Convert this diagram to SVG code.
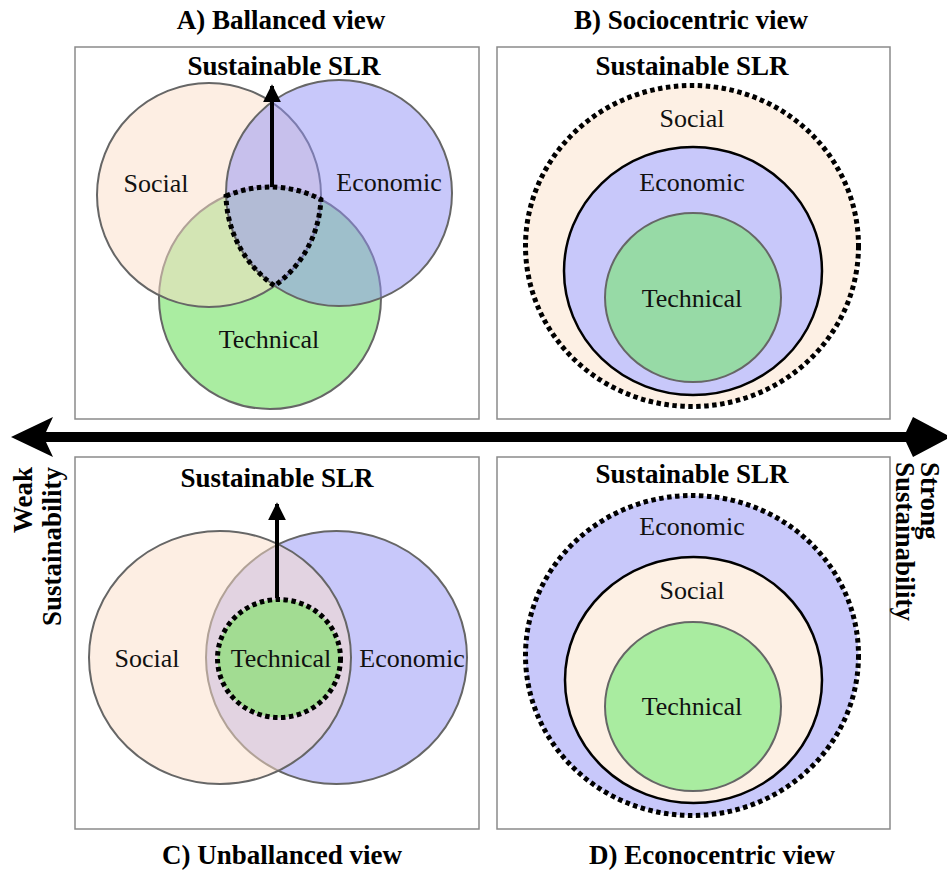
<svg xmlns="http://www.w3.org/2000/svg" width="947" height="872" viewBox="0 0 947 872" font-family="'Liberation Serif', 'Times New Roman', 'DejaVu Serif', serif">
  <style>
    .bg { fill: #ffffff; }
    .panel { fill: #ffffff; stroke: #8a8a8a; stroke-width: 1.5; }
    text { font-family: 'Liberation Serif', 'Times New Roman', 'DejaVu Serif', serif; }
    .title { font-weight: bold; font-size: 27px; fill: #000; }
    .goal { font-weight: bold; font-size: 27px; fill: #000; text-anchor: middle; }
    .lbl { font-size: 26px; fill: #111; text-anchor: middle; }
    .set { stroke: #666; stroke-width: 2; }
    .soc { fill: rgb(251,221,199); fill-opacity: 0.5; }
    .eco { fill: rgb(145,145,245); fill-opacity: 0.5; }
    .tec { fill: rgb(85,219,67); fill-opacity: 0.5; }
    .dots { fill: none; stroke: #000; stroke-width: 5; stroke-dasharray: 4.5 3.5; }
    .ring { stroke: #000; stroke-width: 2.5; }
    .arrow { stroke: #000; stroke-width: 4; fill: none; }
  </style>
  <defs>
    <marker id="head" viewBox="0 0 10 10" refX="9" refY="5" markerWidth="4.5" markerHeight="4.5" orient="auto" markerUnits="strokeWidth">
      <path d="M0,0 L10,5 L0,10 Z" fill="#000"/>
    </marker>
  </defs>

  <rect class="bg" x="0" y="0" width="947" height="872"/>

  <!-- panel titles -->
  <g id="titles">
    <text class="title" x="281" y="29" text-anchor="middle">A) Ballanced view</text>
    <text class="title" x="691" y="29" text-anchor="middle">B) Sociocentric view</text>
    <text class="title" x="282" y="864" text-anchor="middle">C) Unballanced view</text>
    <text class="title" x="712" y="864" text-anchor="middle">D) Econocentric view</text>
  </g>

  <!-- A: balanced, three overlapping sets -->
  <g id="panel-a">
    <rect class="panel" x="75" y="47" width="404" height="372"/>
    <circle class="set tec" cx="270" cy="298" r="111"/>
    <circle class="set soc" cx="209" cy="195" r="112"/>
    <circle class="set eco" cx="339" cy="193" r="113"/>
    <path class="dots" stroke-width="4" stroke-dasharray="4 3" d="M226,196.1 A111,111 0 0 1 320.9,199.4 A112,112 0 0 1 274.5,285.8 A113,113 0 0 1 226,196.1 Z"/>
    <text class="lbl" x="156" y="192">Social</text>
    <text class="lbl" x="389" y="191">Economic</text>
    <text class="lbl" x="269" y="348">Technical</text>
    <text class="goal" x="284" y="75">Sustainable SLR</text>
  </g>

  <!-- B: sociocentric, nested sets -->
  <g id="panel-b">
    <rect class="panel" x="497" y="47" width="393" height="372"/>
    <ellipse cx="692" cy="246" rx="166.5" ry="160.5" fill="#fdf0e4"/>
    <ellipse class="dots" cx="692" cy="246" rx="166.5" ry="160.5"/>
    <ellipse class="ring" cx="693" cy="271" rx="129" ry="124" fill="#c8c8fa"/>
    <ellipse class="set" cx="693" cy="297.5" rx="88" ry="84.5" fill="#97daa6"/>
    <text class="lbl" x="692" y="127">Social</text>
    <text class="lbl" x="692" y="191">Economic</text>
    <text class="lbl" x="692" y="307">Technical</text>
    <text class="goal" x="692" y="75">Sustainable SLR</text>
  </g>

  <!-- C: unbalanced, technical inside the social/economic overlap -->
  <g id="panel-c">
    <rect class="panel" x="75" y="457" width="404" height="372"/>
    <ellipse class="set eco" cx="336.5" cy="657.5" rx="130.5" ry="126.5"/>
    <ellipse class="set soc" cx="220" cy="657.5" rx="131" ry="126.5"/>
    <ellipse cx="279" cy="658.5" rx="61.5" ry="59" fill="#a2dc92"/>
    <ellipse class="dots" cx="279" cy="658.5" rx="61.5" ry="59"/>
    <text class="lbl" x="147" y="667">Social</text>
    <text class="lbl" x="281" y="667">Technical</text>
    <text class="lbl" x="412" y="667">Economic</text>
    <text class="goal" x="277" y="487">Sustainable SLR</text>
  </g>

  <!-- D: econocentric, nested sets -->
  <g id="panel-d">
    <rect class="panel" x="497" y="457" width="393" height="372"/>
    <ellipse cx="692" cy="655.5" rx="166.5" ry="160" fill="#c8c8fa"/>
    <ellipse class="dots" cx="692" cy="655.5" rx="166.5" ry="160"/>
    <ellipse class="ring" cx="693.5" cy="680" rx="128.5" ry="123" fill="#fdf0e4"/>
    <ellipse class="set" cx="693" cy="706.5" rx="88" ry="84.5" fill="#a9eca0"/>
    <text class="lbl" x="692" y="535">Economic</text>
    <text class="lbl" x="692" y="599">Social</text>
    <text class="lbl" x="692" y="715">Technical</text>
    <text class="goal" x="692" y="483">Sustainable SLR</text>
  </g>

  <!-- connectors -->
  <g id="connectors">
    <path class="arrow" d="M272,187 L272,86" marker-end="url(#head)"/>
    <path class="arrow" d="M277,598 L277,504" marker-end="url(#head)"/>
    <!-- weak / strong sustainability axis -->
    <path d="M11,437 L53,417 L46,432 L906,432 L913,417 L951,437 L913,457 L906,442 L46,442 L53,457 Z" fill="#000"/>
  </g>

  <!-- axis end labels -->
  <g id="axis-weak">
    <text class="title" transform="translate(32,467) rotate(-90)" text-anchor="end">Weak</text>
    <text class="title" transform="translate(61,467) rotate(-90)" text-anchor="end">Sustainability</text>
  </g>
  <g id="axis-strong">
    <text class="title" transform="translate(921,462) rotate(90)">Strong</text>
    <text class="title" transform="translate(896,462) rotate(90)">Sustainability</text>
  </g>
</svg>
